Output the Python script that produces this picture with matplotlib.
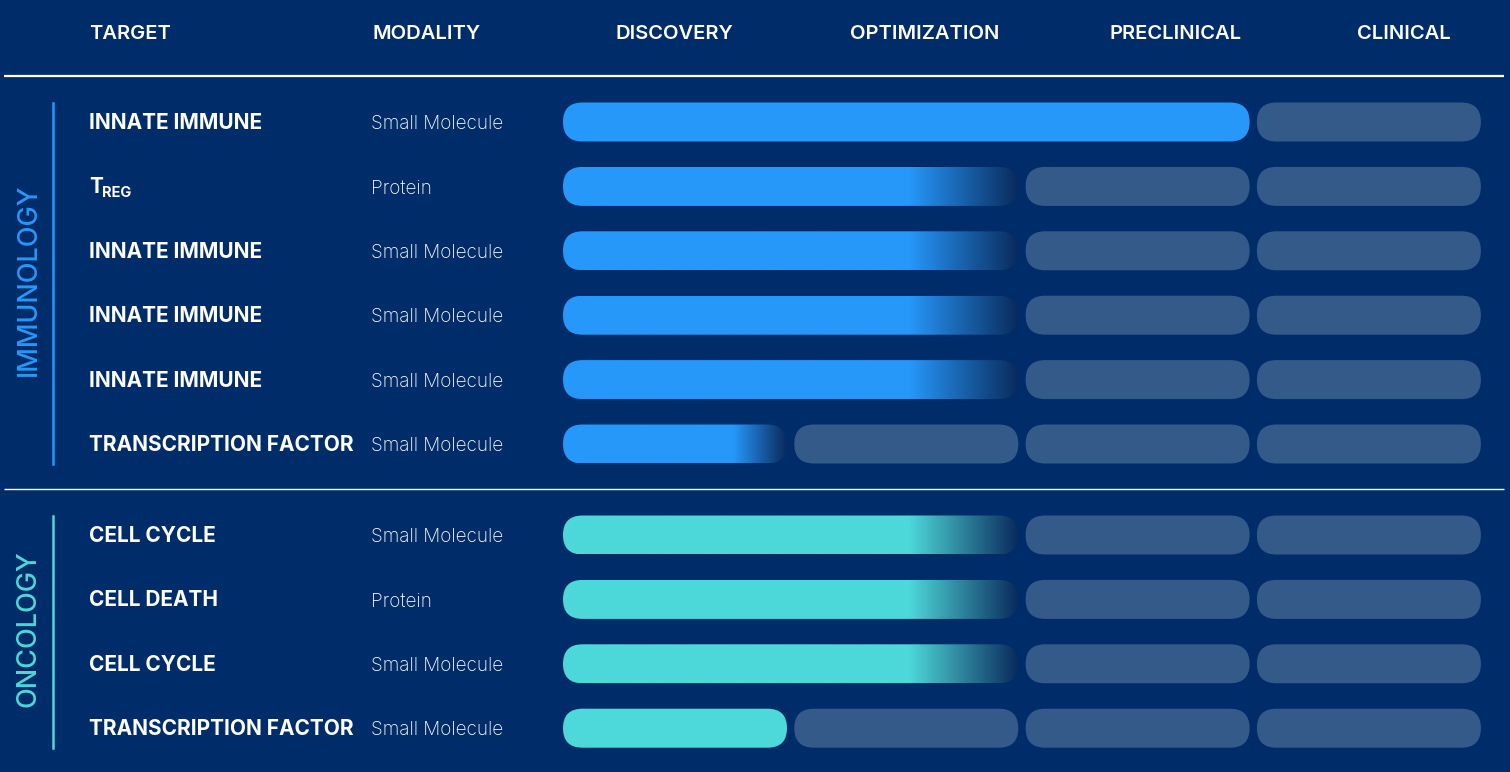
import numpy as np
import matplotlib.pyplot as plt
from matplotlib.patches import FancyBboxPatch
from matplotlib.colors import to_rgba

plt.rcParams['font.family'] = ['Inter', 'DejaVu Sans']

# pipeline data
stages = ['DISCOVERY', 'OPTIMIZATION', 'PRECLINICAL', 'CLINICAL']
areas = ['IMMUNOLOGY', 'ONCOLOGY']
area_rows = [6, 4]
targets = ['INNATE IMMUNE', 'TREG', 'INNATE IMMUNE', 'INNATE IMMUNE', 'INNATE IMMUNE',
           'TRANSCRIPTION FACTOR',
           'CELL CYCLE', 'CELL DEATH', 'CELL CYCLE', 'TRANSCRIPTION FACTOR']
modalities = ['Small Molecule', 'Protein', 'Small Molecule', 'Small Molecule', 'Small Molecule',
              'Small Molecule',
              'Small Molecule', 'Protein', 'Small Molecule', 'Small Molecule']
progress = [3, 2, 2, 2, 2, 1, 2, 2, 2, 1]   # stages completed
fading = [False, True, True, True, True, True, True, True, True, False]

bg = '#002C69'
slot_col = '#345A8A'
area_cols = ['#2698FA', '#4DD8D9']
fade_end = '#0A2A5C'

W, H = 1510, 772
fig = plt.figure(figsize=(15.1, 7.72), dpi=100)
fig.patch.set_facecolor(bg)
ax = fig.add_axes([0, 0, 1, 1])
ax.set_facecolor(bg)
ax.axis('off')

x0, pitch, sw, bh = 563, 231.3, 224, 39
row_pitch = 64.4
group_top = [122, 535]

# header
hy = 39
hfs = 14.5
ax.text(89, hy, 'TARGET', color='white', fontsize=hfs, fontweight='semibold', va='baseline')
ax.text(373, hy, 'MODALITY', color='white', fontsize=hfs, fontweight='semibold', va='baseline')
for s, cx in zip(stages, [674, 925, 1176, 1404]):
    ax.text(cx, hy, s, color='white', fontsize=hfs, fontweight='semibold', va='baseline', ha='center')
ax.plot([4, 1504], [76, 76], color='white', lw=1.6, solid_capstyle='butt')
ax.plot([4, 1504], [489, 489], color='white', lw=1.0, solid_capstyle='butt')


def pill(xa, xb, yc, color):
    p = FancyBboxPatch((xa, yc - bh / 2), xb - xa, bh,
                       boxstyle='round,pad=0,rounding_size=%f' % (bh / 2),
                       fc=color, ec='none', lw=0)
    ax.add_patch(p)
    return p


def fade_bar(xa, xb, yc, color):
    p = pill(xa, xb, yc, 'none')
    n = 400
    t = np.linspace(0, 1, n)
    w = np.clip((t - 0.76) / 0.24, 0, 1)
    c1 = np.array(to_rgba(color))
    c2 = np.array(to_rgba(fade_end))
    img = (1 - w)[:, None] * c1 + w[:, None] * c2
    im = ax.imshow(img[None, :, :], extent=[xa, xb, yc + bh / 2, yc - bh / 2],
                   aspect='auto', interpolation='bilinear', zorder=2)
    im.set_clip_path(p)


row = 0
for g, (area, nrows) in enumerate(zip(areas, area_rows)):
    col = area_cols[g]
    ys = [group_top[g] + i * row_pitch for i in range(nrows)]
    ax.plot([53, 53], [ys[0] - 19.5, ys[-1] + 19.5], color=col, lw=1.8)
    ax.text(29, (ys[0] + ys[-1]) / 2 - 3, area, color=col, fontsize=19.5, fontweight='medium',
            rotation=90, ha='center', va='center')
    for yc in ys:
        tgt = targets[row]
        if tgt == 'TREG':
            ax.text(89, yc + 7, 'T', color='white', fontsize=15, fontweight='bold', va='baseline')
            ax.text(102, yc + 11, 'REG', color='white', fontsize=10.5, fontweight='bold', va='baseline')
        else:
            ax.text(89, yc + 7, tgt, color='white', fontsize=15, fontweight='bold', va='baseline')
        ax.text(371, yc + 7, modalities[row], color='white', fontsize=13.6, fontweight='light',
                va='baseline')
        p = progress[row]
        xb = x0 + (p - 1) * pitch + sw
        if fading[row]:
            fade_bar(x0, xb, yc, col)
        else:
            pill(x0, xb, yc, col)
        for k in range(p, len(stages)):
            pill(x0 + k * pitch, x0 + k * pitch + sw, yc, slot_col)
        row += 1

ax.set_xlim(0, W)
ax.set_ylim(H, 0)
fig.savefig('out.png', dpi=100, facecolor=bg)
